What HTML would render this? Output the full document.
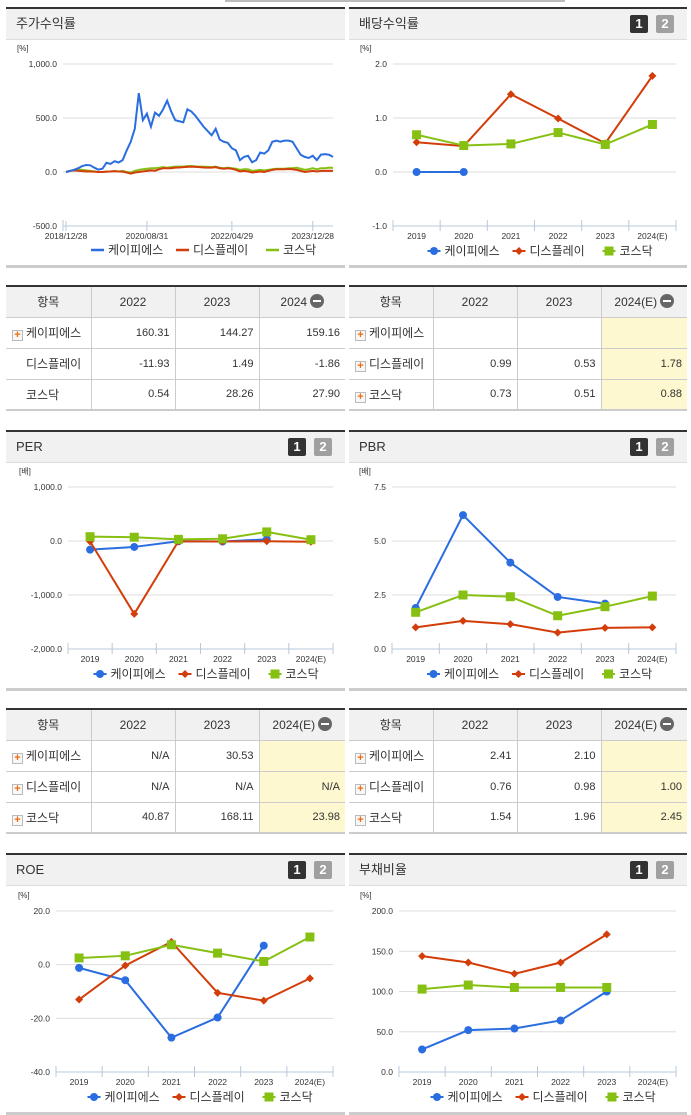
<!DOCTYPE html>
<html><head><meta charset="utf-8">
<style>
*{margin:0;padding:0;box-sizing:border-box}
body{width:691px;height:1115px;background:#fff;position:relative;overflow:hidden;font-family:"Liberation Sans","Noto Sans CJK KR",sans-serif;color:#333}
.abs{position:absolute}
.panel{position:absolute;border-top:2px solid #333}
.hdr{position:absolute;left:0;right:0;top:0;height:31px;background:#f1f1f1;border-bottom:1px solid #ddd;font-size:13px;line-height:30px;padding-left:10px;color:#333}
.b1,.b2{position:absolute;top:6px;width:18px;height:18px;font-size:13px;font-weight:bold;line-height:18px;text-align:center;color:#fff;border-radius:2px}
.b1{background:#333;right:39px}.b2{background:#a0a0a0;right:13px}
.pbot{position:absolute;left:0;right:0;height:3px;background:#ccc}
table{position:absolute;border-collapse:collapse;font-size:11px;border-top:2px solid #333;border-bottom:2px solid #ccc}
td,th{border:1px solid #ccc;height:31px;font-weight:normal}
th{background:#f1f1f1;font-size:12px;text-align:center}
td{text-align:right;padding-right:5px}
td.n{text-align:left;padding-left:6px;font-size:12px}
tr>*:first-child{border-left:none}tr>*:last-child{border-right:none}
.hl{background:#fdf8cf}
.plus{display:inline-block;width:11px;height:11px;border:1px solid #bbb;background:#f7f7f7;color:#f26b0f;font-size:11px;line-height:9px;text-align:center;font-weight:bold;vertical-align:-1px;margin-right:3px}
.minus{display:inline-block;width:14px;height:14px;border-radius:7px;background:#666;vertical-align:-2px;margin-left:3px;position:relative}
.minus:after{content:"";position:absolute;left:3px;top:6px;width:8px;height:2px;background:#fff}
</style></head><body>

<div class="abs" style="left:225px;top:0;width:340px;height:2px;background:#bbb"></div>

<div class="panel" style="left:6px;top:7px;width:339px;height:261px">
 <div class="hdr">주가수익률</div>
 <svg id="c0" class="abs" style="left:-6px;top:-9px" width="345" height="270"></svg>
 <div class="pbot" style="top:256px"></div>
</div>
<div class="panel" style="left:349px;top:7px;width:338px;height:261px">
 <div class="hdr">배당수익률<span class="b1">1</span><span class="b2">2</span></div>
 <svg id="c1" class="abs" style="left:-349px;top:-9px" width="691" height="270"></svg>
 <div class="pbot" style="top:256px"></div>
</div>
<div class="panel" style="left:6px;top:430px;width:339px;height:261px">
 <div class="hdr">PER<span class="b1">1</span><span class="b2">2</span></div>
 <svg id="c2" class="abs" style="left:-6px;top:-432px" width="345" height="700"></svg>
 <div class="pbot" style="top:256px"></div>
</div>
<div class="panel" style="left:349px;top:430px;width:338px;height:261px">
 <div class="hdr">PBR<span class="b1">1</span><span class="b2">2</span></div>
 <svg id="c3" class="abs" style="left:-349px;top:-432px" width="691" height="700"></svg>
 <div class="pbot" style="top:256px"></div>
</div>
<div class="panel" style="left:6px;top:853px;width:339px;height:262px">
 <div class="hdr">ROE<span class="b1">1</span><span class="b2">2</span></div>
 <svg id="c4" class="abs" style="left:-6px;top:-855px" width="345" height="1115"></svg>
 <div class="pbot" style="top:257px"></div>
</div>
<div class="panel" style="left:349px;top:853px;width:338px;height:262px">
 <div class="hdr">부채비율<span class="b1">1</span><span class="b2">2</span></div>
 <svg id="c5" class="abs" style="left:-349px;top:-855px" width="691" height="1115"></svg>
 <div class="pbot" style="top:257px"></div>
</div>

<table style="left:6px;top:285px;width:339px">
<tr><th style="width:85px">항목</th><th style="width:84px">2022</th><th style="width:84px">2023</th><th>2024<span class="minus"></span></th></tr>
<tr><td class="n"><span class="plus">+</span>케이피에스</td><td>160.31</td><td>144.27</td><td>159.16</td></tr>
<tr><td class="n" style="padding-left:20px">디스플레이</td><td>-11.93</td><td>1.49</td><td>-1.86</td></tr>
<tr><td class="n" style="padding-left:20px">코스닥</td><td>0.54</td><td>28.26</td><td>27.90</td></tr>
</table>
<table style="left:349px;top:285px;width:338px">
<tr><th style="width:84px">항목</th><th style="width:84px">2022</th><th style="width:84px">2023</th><th>2024(E)<span class="minus"></span></th></tr>
<tr><td class="n"><span class="plus">+</span>케이피에스</td><td></td><td></td><td class="hl"></td></tr>
<tr><td class="n"><span class="plus">+</span>디스플레이</td><td>0.99</td><td>0.53</td><td class="hl">1.78</td></tr>
<tr><td class="n"><span class="plus">+</span>코스닥</td><td>0.73</td><td>0.51</td><td class="hl">0.88</td></tr>
</table>
<table style="left:6px;top:708px;width:339px">
<tr><th style="width:85px">항목</th><th style="width:84px">2022</th><th style="width:84px">2023</th><th>2024(E)<span class="minus"></span></th></tr>
<tr><td class="n"><span class="plus">+</span>케이피에스</td><td>N/A</td><td>30.53</td><td class="hl"></td></tr>
<tr><td class="n"><span class="plus">+</span>디스플레이</td><td>N/A</td><td>N/A</td><td class="hl">N/A</td></tr>
<tr><td class="n"><span class="plus">+</span>코스닥</td><td>40.87</td><td>168.11</td><td class="hl">23.98</td></tr>
</table>
<table style="left:349px;top:708px;width:338px">
<tr><th style="width:84px">항목</th><th style="width:84px">2022</th><th style="width:84px">2023</th><th>2024(E)<span class="minus"></span></th></tr>
<tr><td class="n"><span class="plus">+</span>케이피에스</td><td>2.41</td><td>2.10</td><td class="hl"></td></tr>
<tr><td class="n"><span class="plus">+</span>디스플레이</td><td>0.76</td><td>0.98</td><td class="hl">1.00</td></tr>
<tr><td class="n"><span class="plus">+</span>코스닥</td><td>1.54</td><td>1.96</td><td class="hl">2.45</td></tr>
</table>

<script>
const seriesNames = ["케이피에스","디스플레이","코스닥"];
const years = ["2019","2020","2021","2022","2023","2024(E)"];
const priceKps = [0,10,20,35,55,65,62,40,22,30,85,75,100,88,110,200,280,400,730,480,540,420,550,520,580,660,560,480,470,460,580,560,520,470,420,380,340,400,300,280,270,220,200,110,140,150,90,110,180,170,200,280,290,280,290,290,280,220,160,140,130,150,110,160,165,160,140];
const priceDisp = [0,10,15,12,8,5,5,3,0,0,3,5,8,5,3,-5,-15,-5,0,5,10,15,12,25,35,35,35,40,42,45,48,50,48,45,42,40,40,45,35,30,35,30,20,5,10,5,-5,0,5,0,10,20,25,25,25,28,25,20,10,0,5,10,5,10,10,12,10];
const priceKosdaq = [0,10,20,25,20,15,10,5,0,0,3,5,8,5,10,0,-5,10,20,25,30,35,35,40,45,40,45,50,50,50,55,55,52,50,50,48,45,50,40,35,40,35,30,20,25,25,10,15,20,15,20,25,30,30,30,35,35,40,30,20,25,35,25,35,35,40,38];
const priceTickLabels = ["2018/12/28","2020/08/31","2022/04/29","2023/12/28"];
const priceTickIdx = [0,20,41,61];
const priceYTicks = [1000,500,0,-500];
const priceYLabels = ["1,000.0","500.0","0.0","-500.0"];

const divKps = [0,0,null,null,null,null];
const divDisp = [0.55,0.48,1.44,0.99,0.53,1.78];
const divKosdaq = [0.69,0.49,0.52,0.73,0.51,0.88];
const divYTicks = [2,1,0,-1];

const perKps = [-160,-110,-5,-10,30.53,null];
const perDisp = [-10,-1350,-5,-10,-5,-15];
const perKosdaq = [80,70,30,40.87,168.11,23.98];
const perYTicks = [1000,0,-1000,-2000];

const pbrKps = [1.9,6.2,4.0,2.41,2.10,null];
const pbrDisp = [1.0,1.3,1.15,0.76,0.98,1.00];
const pbrKosdaq = [1.7,2.5,2.42,1.54,1.96,2.45];
const pbrYTicks = [7.5,5,2.5,0];

const roeKps = [-1.2,-5.8,-27.2,-19.7,7.1,null];
const roeDisp = [-13,-0.3,8.5,-10.5,-13.4,-5.1];
const roeKosdaq = [2.5,3.3,7.4,4.3,1.2,10.3];
const roeYTicks = [20,0,-20,-40];

const debtKps = [28,52,54,64,100,null];
const debtDisp = [144,136,122,136,171,null];
const debtKosdaq = [103,108,105,105,105,null];
const debtYTicks = [200,150,100,50,0];

const COLORS = ["#2a6de0","#d23d0a","#86c012"];
const NS = "http://www.w3.org/2000/svg";
function mk(svg, tag, attrs){const e=document.createElementNS(NS,tag);for(const k in attrs)e.setAttribute(k,attrs[k]);svg.appendChild(e);return e;}
function txt(svg,x,y,s,anchor,size,fill){const t=mk(svg,"text",{x:x,y:y,"text-anchor":anchor,"font-size":size,fill:fill||"#333","font-family":"Liberation Sans, Noto Sans CJK KR, sans-serif"});t.textContent=s;return t;}

function axisFrame(svg,g,yTicks,yLabels,unit){
  const ys=v=>g.top+(g.max-v)/(g.max-g.min)*(g.bot-g.top);
  const u=txt(svg,g.unitX,g.top-13,unit,"start",8);
  
  
  yTicks.forEach((v,i)=>{
    const y=ys(v);
    const l=mk(svg,"line",{x1:g.left,x2:g.right,y1:y,y2:y,stroke:"#ddd","stroke-width":1});
    
    
    const t=txt(svg,g.left-6,y+3,yLabels[i],"end",8.5);
    
    
  });
  const ax=mk(svg,"line",{x1:g.left,x2:g.right,y1:g.bot,y2:g.bot,stroke:"#b8c8dc","stroke-width":1});
  
  
  mk(svg,"line",{x1:g.left,x2:g.left,y1:g.bot-6,y2:g.bot+5,stroke:"#b8c8dc"});
  return ys;
}
function marker(svg,i,x,y){
  let m;
  if(i===0)m=mk(svg,"circle",{cx:x,cy:y,r:4,fill:COLORS[0]});
  else if(i===1)m=mk(svg,"path",{d:`M${x} ${y-4}L${x+4} ${y}L${x} ${y+4}L${x-4} ${y}Z`,fill:COLORS[1]});
  else m=mk(svg,"rect",{x:x-4.5,y:y-4.5,width:9,height:9,fill:COLORS[2]});
  return m;
}
function legend(svg,cx,y,lineStyle){
  const w=[85,90,55];let x=cx-115;
  seriesNames.forEach((n,i)=>{
    const l=mk(svg,"line",{x1:x,x2:x+13,y1:y-4,y2:y-4,stroke:COLORS[i],"stroke-width":lineStyle?2.5:2});
    
    
    if(!lineStyle)marker(svg,i,x+6.5,y-4);
    const t=txt(svg,x+17,y,n,"start",12);
    
    
    x+=w[i];
  });
}
function catChart(id,g,data,yTicks,fmt,unit){
  const svg=document.getElementById(id);
  const ys=axisFrame(svg,g,yTicks,yTicks.map(fmt),unit);
  const n=years.length,bw=(g.right-g.left)/n;
  const xs=i=>g.left+bw*(i+0.5);
  years.forEach((yr,i)=>{
    mk(svg,"line",{x1:g.left+bw*(i+1),x2:g.left+bw*(i+1),y1:g.bot-6,y2:g.bot+5,stroke:"#b8c8dc"});
    const t=txt(svg,xs(i),g.bot+13,yr,"middle",8.5);
    
    
  });
  data.forEach((arr,si)=>{
    let seg=[];const segs=[];
    arr.forEach((v,i)=>{if(v===null){if(seg.length)segs.push(seg);seg=[];}else seg.push([xs(i),ys(v)]);});
    if(seg.length)segs.push(seg);
    segs.forEach(s=>{
      const p=mk(svg,"polyline",{points:s.map(q=>q.join(",")).join(" "),fill:"none",stroke:COLORS[si],"stroke-width":2});
      
      
    });
    arr.forEach((v,i)=>{if(v===null)return;
      const m=marker(svg,si,xs(i),ys(v));
      
      
    });
  });
  legend(svg,(g.left+g.right)/2+8,g.bot+29,false);
}

(function(){
  const svg=document.getElementById("c0");
  const g={left:63,right:333,top:64,bot:226,min:-500,max:1000,unitX:17};
  const ys=axisFrame(svg,g,priceYTicks,priceYLabels,"[%]");
  const n=priceKps.length;
  const xs=i=>g.left+3+i*(g.right-g.left-3)/(n-1);
  priceTickIdx.forEach((ix,k)=>{
    mk(svg,"line",{x1:xs(ix),x2:xs(ix),y1:g.bot-5,y2:g.bot+5,stroke:"#b8c8dc"});
    const t=txt(svg,xs(ix),g.bot+13,priceTickLabels[k],"middle",8.5);
    
    
  });
  [[priceKosdaq,2],[priceDisp,1],[priceKps,0]].forEach(([arr,si])=>{
    const p=mk(svg,"polyline",{points:arr.map((v,i)=>xs(i)+","+ys(v)).join(" "),fill:"none",stroke:COLORS[si],"stroke-width":2});
    
    
  });
  legend(svg,(g.left+g.right)/2+8,g.bot+28,true);
})();

catChart("c1",{left:393,right:676,top:64,bot:226,min:-1,max:2,unitX:360},[divKps,divDisp,divKosdaq],divYTicks,v=>v.toFixed(1),"[%]");
catChart("c2",{left:68,right:333,top:487,bot:649,min:-2000,max:1000,unitX:19},[perKps,perDisp,perKosdaq],perYTicks,v=>v.toLocaleString("en-US",{minimumFractionDigits:1,maximumFractionDigits:1}),"[배]");
catChart("c3",{left:392,right:676,top:487,bot:649,min:0,max:7.5,unitX:359},[pbrKps,pbrDisp,pbrKosdaq],pbrYTicks,v=>v.toFixed(1),"[배]");
catChart("c4",{left:56,right:333,top:911,bot:1072,min:-40,max:20,unitX:18},[roeKps,roeDisp,roeKosdaq],roeYTicks,v=>v.toFixed(1),"[%]");
catChart("c5",{left:399,right:676,top:911,bot:1072,min:0,max:200,unitX:360},[debtKps,debtDisp,debtKosdaq],debtYTicks,v=>v.toFixed(1),"[%]");
</script>
</body></html>
